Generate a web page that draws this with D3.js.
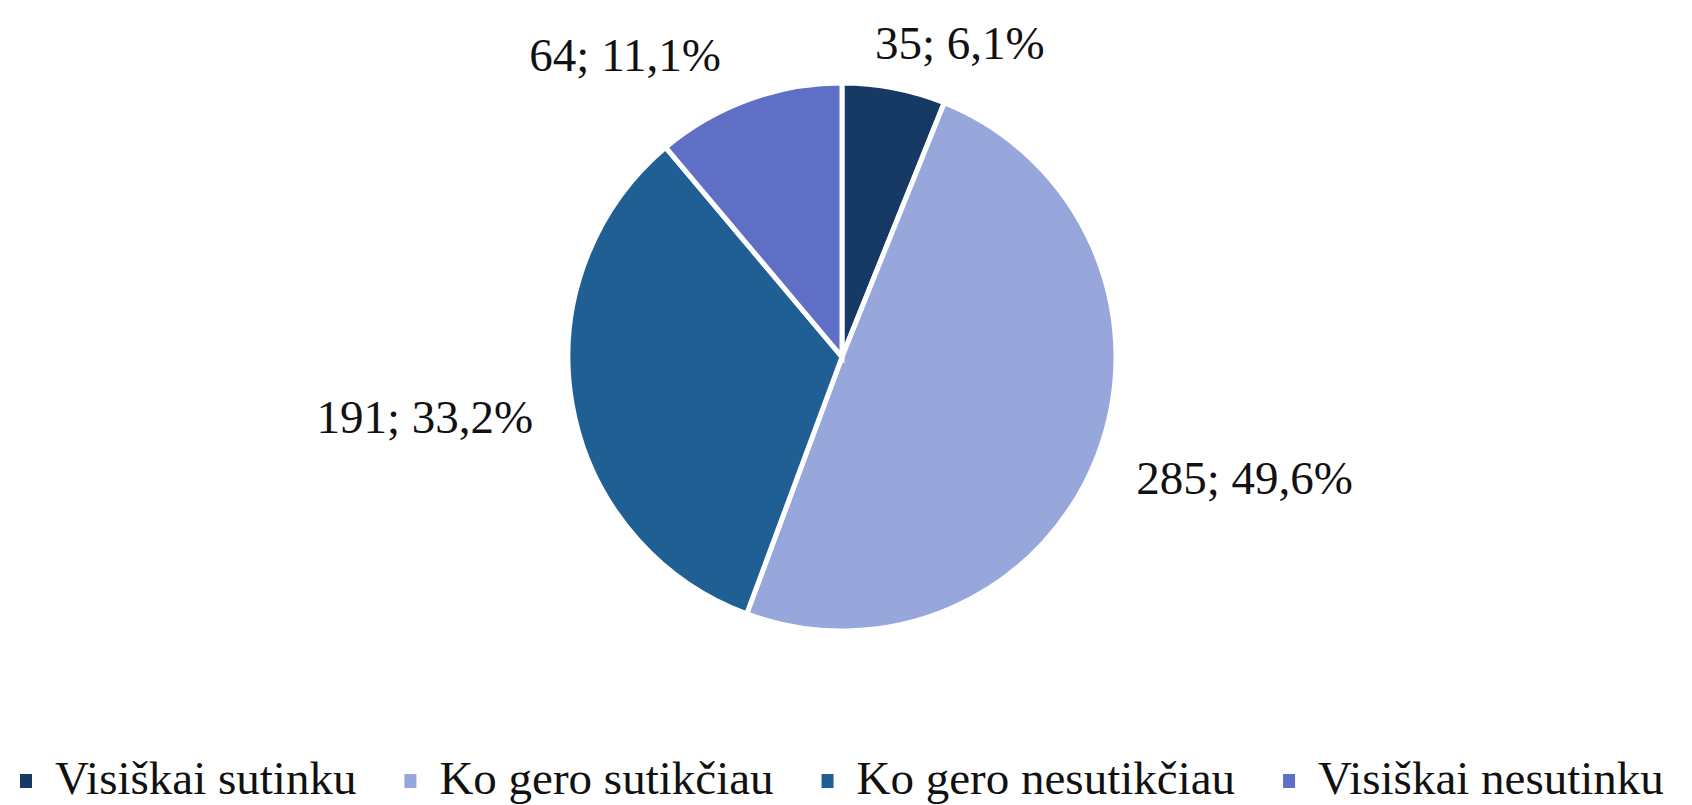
<!DOCTYPE html>
<html>
<head>
<meta charset="utf-8">
<script src="https://cdn.jsdelivr.net/npm/d3@7"></script>
<style>
  html, body { margin: 0; padding: 0; background: #fff; }
  svg { display: block; font-family: "Liberation Serif", "Times New Roman", serif; }
</style>
</head>
<body>
<div id="chart"></div>
<script>
// Data
var categories = ["Visiškai sutinku", "Ko gero sutikčiau", "Ko gero nesutikčiau", "Visiškai nesutinku"];
var counts = [35, 285, 191, 64];
var percents = ["6,1%", "49,6%", "33,2%", "11,1%"];
var colors = ["#173a64", "#97a7db", "#1f5f94", "#606fc6"];

// Layout
var width = 1692, height = 805;
var cx = 842, cy = 357, radius = 274;
var labelGap = 30;
// Excel "best fit" shifts the labels a bit from the plain outside position
var labelNudge = [[44, 4], [18, 4], [-11, 5], [-80, 2]];

var svg = d3.select("#chart")
  .append("svg")
  .attr("width", width)
  .attr("height", height);

var rows = categories.map(function(c, i) {
  return { name: c, value: counts[i], pct: percents[i], color: colors[i], i: i };
});

var pie = d3.pie()
  .sort(null)
  .value(function(d) { return d.value; });

var arc = d3.arc()
  .innerRadius(0)
  .outerRadius(radius);

var arcs = pie(rows);

var g = svg.append("g")
  .attr("transform", "translate(" + cx + "," + cy + ")");

g.selectAll("path")
  .data(arcs)
  .enter()
  .append("path")
  .attr("d", arc)
  .attr("fill", function(d) { return d.data.color; })
  .attr("stroke", "#fff")
  .attr("stroke-width", 5)
  .attr("stroke-linejoin", "miter");

// Data labels outside the slices
var labels = g.selectAll("text.lbl")
  .data(arcs)
  .enter()
  .append("text")
  .attr("class", "lbl")
  .attr("font-size", 47)
  .attr("fill", "#111")
  .attr("text-anchor", "middle")
  .text(function(d) { return d.data.value + "; " + d.data.pct; });

labels.each(function(d) {
  var el = d3.select(this);
  var w = this.getComputedTextLength();
  var h = 40;
  var a = (d.startAngle + d.endAngle) / 2;
  var s = Math.sin(a), c = Math.cos(a);
  var px = (radius + labelGap) * s;
  var py = -(radius + labelGap) * c;
  var nx = px + s * w / 2 + labelNudge[d.data.i][0];
  var ny = py - c * h / 2 + labelNudge[d.data.i][1];
  el.attr("x", nx).attr("y", ny + 16);
});

// Legend at the bottom
var legend = svg.append("g").attr("class", "legend");
var legY = 794;
var markerSize = 12;
var items = legend.selectAll("g.item")
  .data(rows)
  .enter()
  .append("g")
  .attr("class", "item");

items.append("rect")
  .attr("width", markerSize)
  .attr("height", markerSize + 2)
  .attr("y", legY - 20)
  .attr("fill", function(d) { return d.color; });

items.append("text")
  .attr("x", markerSize + 23)
  .attr("y", legY)
  .attr("font-size", 47)
  .attr("fill", "#111")
  .text(function(d) { return d.name; });

var xPos = 20;
items.each(function(d) {
  var t = d3.select(this).select("text").node().getComputedTextLength();
  d3.select(this).attr("transform", "translate(" + xPos + ",0)");
  xPos += markerSize + 23 + t + 48;
});
</script>
</body>
</html>
